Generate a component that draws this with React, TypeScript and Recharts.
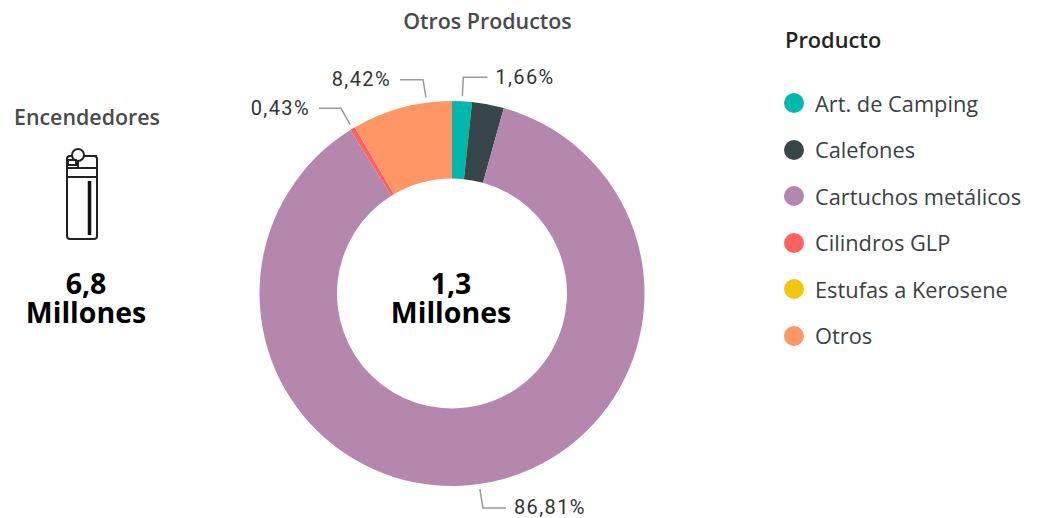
import { PieChart, Pie, Cell, Legend } from "recharts";

const PRODUCTS = [
  "Art. de Camping",
  "Calefones",
  "Cartuchos metálicos",
  "Cilindros GLP",
  "Estufas a Kerosene",
  "Otros",
];
const SHARES = [1.66, 2.68, 86.81, 0.43, 0, 8.42];
const COLORS = ["#01B8AA", "#374649", "#B687AC", "#FD625E", "#F2C80F", "#FE9666"];

const data = PRODUCTS.map((name, i) => ({ name, value: SHARES[i] }));

// leader line shape for each labelled slice: elbow and end relative to the start
const LEADERS: Record<string, { nudge?: number; elbow: number[]; end: number[]; anchor: "start" | "end" }> = {
  "Art. de Camping": { elbow: [1, -19], end: [25, -19], anchor: "start" },
  "Cartuchos metálicos": { elbow: [3, 19], end: [26, 19], anchor: "start" },
  "Cilindros GLP": { elbow: [-9, -16], end: [-31, -16], anchor: "end" },
  Otros: { nudge: -7.6, elbow: [-3, -18], end: [-26, -18], anchor: "end" },
};

const formatShare = (v: number) => v.toFixed(2).replace(".", ",") + "%";

const renderLabel = (props: any) => {
  const { cx, cy, outerRadius, midAngle, name, value } = props;
  const leader = LEADERS[name];
  if (!leader) return <g />;
  const angle = ((midAngle + (leader.nudge ?? 0)) * Math.PI) / 180;
  const x = cx + (outerRadius + 5) * Math.cos(angle);
  const y = cy - (outerRadius + 5) * Math.sin(angle);
  const ex = x + leader.end[0];
  const ey = y + leader.end[1];
  return (
    <g>
      <polyline
        points={`${x},${y} ${x + leader.elbow[0]},${y + leader.elbow[1]} ${ex},${ey}`}
        fill="none"
        stroke="#999"
        strokeWidth={1.5}
      />
      <text
        x={ex + (leader.anchor === "start" ? 8 : -9)}
        y={ey + 1}
        textAnchor={leader.anchor}
        dominantBaseline="middle"
        fontFamily="Roboto"
        fontSize={20}
        letterSpacing={1.4}
        fill="#333"
      >
        {formatShare(value)}
      </text>
    </g>
  );
};

const renderLegend = () => (
  <div style={{ fontFamily: "'Open Sans'", color: "#3a3f44" }}>
    <div style={{ fontSize: 21.8, fontWeight: 600, color: "#252423", height: 55, lineHeight: "30px" }}>Producto</div>
    {PRODUCTS.map((name, i) => (
      <div key={name} style={{ display: "flex", alignItems: "center", height: 46.5, fontSize: 21.8 }}>
        <span
          style={{ width: 20, height: 20, borderRadius: 10, background: COLORS[i], marginRight: 11, marginLeft: -1, flex: "none" }}
        />
        {name}
      </div>
    ))}
  </div>
);

const caption = (lines: string[], centerX: number, top: number, size: number, color: string, weight: number) => (
  <div
    style={{
      position: "absolute",
      left: centerX - 150,
      width: 300,
      top,
      textAlign: "center",
      fontFamily: "'Open Sans'",
      fontSize: size,
      fontWeight: weight,
      color,
      lineHeight: "29px",
      whiteSpace: "pre-line",
    }}
  >
    {lines.join("\n")}
  </div>
);

const LighterIcon = () => (
  <svg width={40} height={100} style={{ position: "absolute", left: 60, top: 145 }} fill="none" stroke="#222" strokeWidth={2}>
    <rect x={7} y={11} width={30} height={83} rx={3} />
    <line x1={7} y1={23} x2={37} y2={23} />
    <line x1={7} y1={32} x2={37} y2={32} />
    <line x1={29.5} y1={36} x2={29.5} y2={90} strokeWidth={3.5} stroke="#111" />
    <path d="M18 23 V13 a2 2 0 0 1 2 -2 H37" />
    <circle cx={18} cy={10} r={6} fill="#fff" />
    <rect x={8} y={15} width={8} height={5} fill="#fff" />
  </svg>
);

export default function App() {
  return (
    <div style={{ position: "absolute", left: 0, top: 0, width: 1043, height: 518, background: "#fff", overflow: "hidden" }}>
      <PieChart width={1043} height={518} margin={{ top: 0, right: 0, bottom: 0, left: 0 }}>
        <Pie
          data={data}
          dataKey="value"
          nameKey="name"
          cx={452}
          cy={293.5}
          innerRadius={115}
          outerRadius={192.5}
          startAngle={90}
          endAngle={-270}
          stroke="none"
          label={renderLabel}
          labelLine={false}
          isAnimationActive={false}
        >
          {data.map((d, i) => (
            <Cell key={d.name} fill={COLORS[i]} />
          ))}
        </Pie>
        <Legend
          content={renderLegend}
          layout="vertical"
          wrapperStyle={{ position: "absolute", left: 785, top: 25, width: 258, bottom: "auto" }}
        />
      </PieChart>
      {caption(["Otros Productos"], 487.5, 6, 21.4, "#4a4a4a", 600)}
      {caption(["Encendedores"], 87, 102, 21.4, "#4a4a4a", 600)}
      <LighterIcon />
      {caption(["6,8", "Millones"], 86, 269, 28.5, "#000", 700)}
      {caption(["1,3", "Millones"], 451, 269, 28.5, "#000", 700)}
    </div>
  );
}
